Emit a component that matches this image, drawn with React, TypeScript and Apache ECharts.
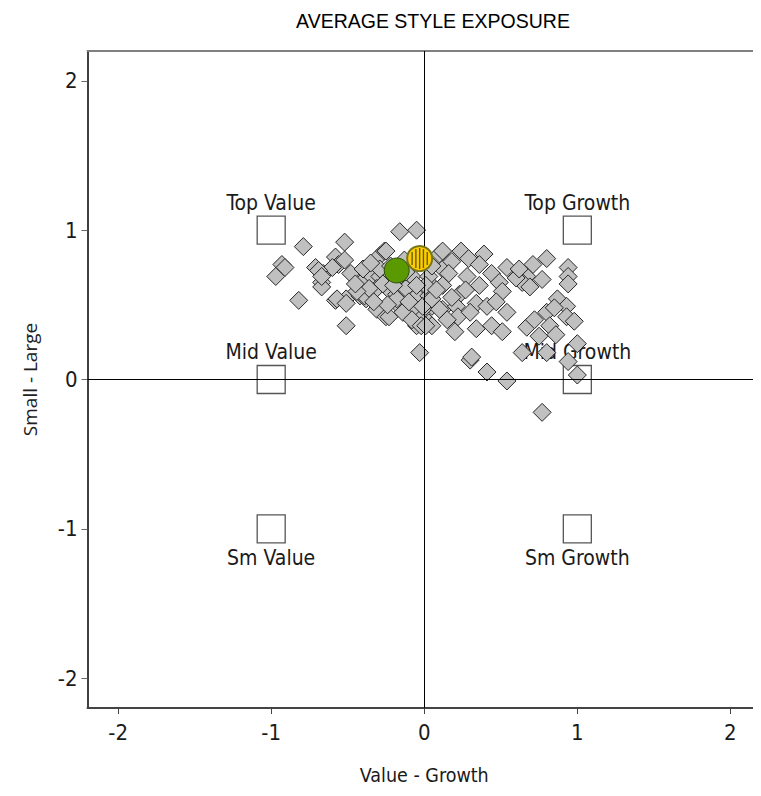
import React, { useEffect, useRef } from "react";
import * as echarts from "echarts";

const xTicks = [-2, -1, 0, 1, 2];
const yTicks = [-2, -1, 0, 1, 2];
const axisMin = -2.2;
const axisMax = 2.2;

const styleBoxNames = ["Top Value", "Top Growth", "Mid Value", "Mid Growth", "Sm Value", "Sm Growth"];
const styleBoxX = [-1, 1, -1, 1, -1, 1];
const styleBoxY = [1, 1, 0, 0, -1, -1];

const fundPoints: [number, number][] = [
  [-0.16, 0.99], [-0.05, 1.0], [-0.79, 0.89], [-0.52, 0.92], [-0.93, 0.77], [-0.91, 0.75], [-0.97, 0.69],
  [-0.82, 0.53], [-0.71, 0.75], [-0.66, 0.71], [-0.67, 0.65], [-0.67, 0.62], [-0.58, 0.82], [-0.56, 0.77],
  [-0.52, 0.8], [-0.6, 0.75], [-0.48, 0.71], [-0.41, 0.65], [-0.58, 0.53], [-0.51, 0.54], [-0.51, 0.36],
  [-0.42, 0.56], [-0.38, 0.54], [-0.31, 0.47], [-0.25, 0.42], [-0.29, 0.83], [-0.26, 0.86], [-0.34, 0.69],
  [-0.29, 0.69], [-0.22, 0.59], [-0.18, 0.57], [-0.12, 0.61], [-0.08, 0.69], [-0.05, 0.56], [0.03, 0.65],
  [0.1, 0.84], [0.12, 0.74], [-0.08, 0.45], [-0.03, 0.4], [-0.05, 0.36], [0.03, 0.38], [0.05, 0.49],
  [0.12, 0.47], [-0.03, 0.18], [-0.16, 0.49], [-0.14, 0.45],
  [0.12, 0.86], [0.24, 0.86], [0.39, 0.84], [0.18, 0.79], [0.29, 0.81], [0.36, 0.77], [0.54, 0.75],
  [0.71, 0.77], [0.8, 0.81], [0.94, 0.75], [0.94, 0.69], [0.94, 0.64], [0.67, 0.69], [0.77, 0.67],
  [0.64, 0.65], [0.69, 0.62], [0.44, 0.71], [0.49, 0.65], [0.51, 0.59], [0.36, 0.63], [0.28, 0.69],
  [0.16, 0.71], [0.03, 0.69], [0.12, 0.63], [0.23, 0.57], [0.34, 0.51], [0.41, 0.49], [0.47, 0.52],
  [0.54, 0.45], [0.03, 0.56], [0.01, 0.49], [0.1, 0.47], [0.21, 0.49], [0.22, 0.42], [-0.08, 0.4],
  [-0.02, 0.36], [0.05, 0.36], [0.2, 0.32], [0.34, 0.34], [0.44, 0.36], [0.51, 0.32], [0.67, 0.35],
  [0.8, 0.45], [0.87, 0.54], [0.93, 0.49], [0.93, 0.42], [0.98, 0.39], [0.82, 0.36], [0.75, 0.29],
  [0.86, 0.3], [0.64, 0.18], [0.8, 0.18], [1.0, 0.24], [0.94, 0.12], [1.0, 0.03], [0.3, 0.13],
  [0.31, 0.15], [0.41, 0.05], [0.54, -0.01], [0.77, -0.22],
  [-0.69, 0.73], [-0.67, 0.69], [-0.57, 0.54], [-0.51, 0.51], [-0.39, 0.56], [-0.31, 0.61], [-0.25, 0.86],
  [-0.29, 0.74], [-0.23, 0.42], [-0.18, 0.54], [-0.01, 0.49], [0.01, 0.36], [0.05, 0.54], [0.05, 0.76],
  [0.01, 0.63], [-0.05, 0.63], [-0.18, 0.67], [-0.36, 0.61], [-0.44, 0.59],
  [-0.4, 0.74], [-0.35, 0.78], [-0.22, 0.76], [-0.13, 0.8], [-0.27, 0.64], [-0.2, 0.63], [-0.1, 0.52],
  [-0.24, 0.5], [-0.33, 0.52], [-0.45, 0.64], [-0.12, 0.72], [0.08, 0.6], [0.18, 0.55], [0.15, 0.4],
  [0.27, 0.6], [0.3, 0.45], [0.6, 0.68], [0.62, 0.74], [0.85, 0.48], [0.72, 0.4],
];

const benchmarkPoint: [number, number] = [-0.18, 0.73];
const averagePoint: [number, number] = [-0.03, 0.81];

const NARROW = "'DejaVu Sans Condensed', 'Liberation Sans', sans-serif";

// vertical hatch symbol (unit circle stripes), a marker shape only
const STRIPE_XS = [-0.72, -0.36, 0, 0.36, 0.72];
const STRIPE_W = 0.13;
function stripePath(): string {
  let d = "";
  for (const xc of STRIPE_XS) {
    const h = Math.sqrt(1 - (Math.abs(xc) + STRIPE_W / 2) ** 2);
    const x0 = xc - STRIPE_W / 2;
    const x1 = xc + STRIPE_W / 2;
    d += `M${x0.toFixed(3)},${(-h).toFixed(3)}L${x1.toFixed(3)},${(-h).toFixed(3)}L${x1.toFixed(3)},${h.toFixed(3)}L${x0.toFixed(3)},${h.toFixed(3)}Z`;
  }
  return "path://" + d;
}

export default function App() {
  const ref = useRef<HTMLDivElement>(null);
  useEffect(() => {
    if (!ref.current) return;
    const chart = echarts.init(ref.current, null, { renderer: "svg" });
    const boxData = styleBoxNames.map((n, i) => ({
      name: n,
      value: [styleBoxX[i], styleBoxY[i]],
      label: {
        position: styleBoxY[i] < 0 ? "bottom" : "top",
        distance: styleBoxY[i] < 0 ? 4 : 2,
      },
    }));
    const innerR = 10.5;
    const stripeW = (STRIPE_XS[STRIPE_XS.length - 1] - STRIPE_XS[0] + STRIPE_W) * innerR;
    const hMax = Math.sqrt(1 - (STRIPE_W / 2) ** 2);
    const stripeH = 2 * hMax * innerR;
    chart.setOption({
      animation: false,
      backgroundColor: "#ffffff",
      title: {
        text: "AVERAGE STYLE EXPOSURE",
        left: 428,
        textAlign: "center",
        top: 6,
        textStyle: { fontFamily: "'Liberation Sans', sans-serif", fontSize: 19.5, fontWeight: "normal", color: "#000" },
      },
      grid: { left: 87.5, top: 51, right: 0, bottom: 88 },
      xAxis: [
        {
          type: "value",
          min: axisMin,
          max: axisMax,
          position: "bottom",
          name: "Value - Growth",
          nameLocation: "middle",
          nameGap: 56,
          nameTextStyle: { fontFamily: NARROW, fontSize: 19.5, color: "#1a1a1a", lineHeight: 22 },
          axisLine: { show: true, onZero: false, lineStyle: { color: "#444", width: 2 } },
          axisTick: { show: true, length: 6, customValues: xTicks, lineStyle: { color: "#444" } },
          axisLabel: { customValues: xTicks, margin: 13, fontFamily: NARROW, fontSize: 22, lineHeight: 22, color: "#1a1a1a" },
          splitLine: { show: false },
        },
        {
          type: "value",
          min: axisMin,
          max: axisMax,
          position: "top",
          axisLine: { show: true, onZero: false, lineStyle: { color: "#808080", width: 2 } },
          axisTick: { show: false },
          axisLabel: { show: false },
          splitLine: { show: false },
        },
      ],
      yAxis: {
        type: "value",
        min: axisMin,
        max: axisMax,
        name: "Small - Large",
        nameLocation: "middle",
        nameRotate: 90,
        nameGap: 48,
        nameTextStyle: { fontFamily: "'Open Sans', 'Noto Sans', sans-serif", fontSize: 19, color: "#222" },
        axisLine: { show: true, onZero: false, lineStyle: { color: "#000", width: 1.5 } },
        axisTick: { show: true, length: 6, customValues: yTicks, lineStyle: { color: "#666" } },
        axisLabel: { customValues: yTicks, margin: 10, fontFamily: NARROW, fontSize: 22, lineHeight: 22, color: "#1a1a1a" },
        splitLine: { show: false },
      },
      series: [
        {
          type: "scatter",
          name: "Style boxes",
          symbol: "rect",
          symbolSize: 28,
          data: boxData,
          itemStyle: { color: "#ffffff", borderColor: "#555", borderWidth: 1.3, opacity: 1 },
          label: {
            show: true,
            formatter: "{b}",
            fontFamily: NARROW,
            fontSize: 21,
            lineHeight: 22,
            color: "#1a1a1a",
          },
          markLine: {
            silent: true,
            symbol: ["none", "none"],
            label: { show: false },
            lineStyle: { color: "#000", width: 1, type: "solid" },
            data: [{ xAxis: 0 }, { yAxis: 0 }],
          },
          z: 2,
        },
        {
          type: "scatter",
          name: "Funds",
          symbol: "diamond",
          symbolSize: 18,
          data: fundPoints,
          itemStyle: { color: "#c0c0c0", borderColor: "#262626", borderWidth: 1, opacity: 1 },
          z: 3,
        },
        {
          type: "scatter",
          name: "Benchmark",
          symbol: "circle",
          symbolSize: 25,
          data: [benchmarkPoint],
          itemStyle: { color: "#5a9900", borderColor: "#2f4a0c", borderWidth: 1, opacity: 1 },
          z: 4,
        },
        {
          type: "scatter",
          name: "Average",
          symbol: "circle",
          symbolSize: 25,
          data: [averagePoint],
          itemStyle: { color: "#ffcc00", borderColor: "#77771a", borderWidth: 2, opacity: 1 },
          z: 5,
        },
        {
          type: "scatter",
          name: "Average hatch",
          symbol: stripePath(),
          symbolSize: [stripeW, stripeH],
          data: [averagePoint],
          itemStyle: { color: "#5e5e12", opacity: 1 },
          silent: true,
          z: 6,
        },
      ],
    });
    return () => chart.dispose();
  }, []);
  return <div ref={ref} style={{ width: 761, height: 796, margin: -8 }} />;
}
